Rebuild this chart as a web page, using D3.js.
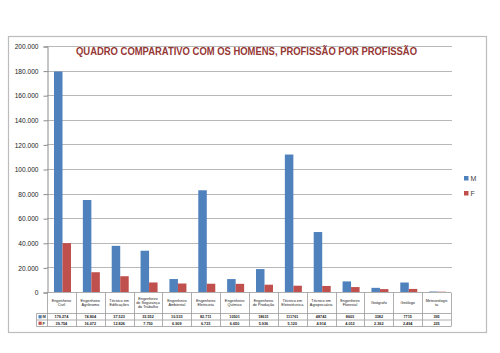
<!DOCTYPE html>
<html>
<head>
<meta charset="utf-8">
<script src="https://cdn.jsdelivr.net/npm/d3@7"></script>
<style>
  body { margin: 0; background: #fff; }
  svg { display: block; }
</style>
</head>
<body>
<div id="chart"></div>
<script>
// data
const categories = [
    ["Engenheiro", "Civil"],
    ["Engenheiro", "Agrônomo"],
    ["Técnico em", "Edificações"],
    ["Engenheiro", "de Segurança", "do Trabalho"],
    ["Engenheiro", "Ambiental"],
    ["Engenheiro", "Eletricista"],
    ["Engenheiro", "Químico"],
    ["Engenheiro", "de Produção"],
    ["Técnico em", "Eletrotécnica"],
    ["Técnico em", "Agropecuária"],
    ["Engenheiro", "Florestal"],
    ["Geógrafo"],
    ["Geólogo"],
    ["Meteorologis", "ta"]
];
const mValues = [179274, 74804, 37523, 33552, 10533, 82711, 10501, 18631, 111761, 48742, 8603, 3382, 7715, 395];
const fValues = [39754, 16072, 12826, 7750, 6909, 6723, 6650, 5936, 5120, 4914, 4012, 2362, 2494, 225];
const mLabels = ["179.274", "74.804", "37.523", "33.552", "10.533", "82.711", "10501", "18631", "111761", "48742", "8603", "3382", "7715", "395"];
const fLabels = ["39.754", "16.072", "12.826", "7.750", "6.909", "6.723", "6.650", "5.936", "5.120", "4.914", "4.012", "2.362", "2.494", "225"];
const yTicks = [0, 20000, 40000, 60000, 80000, 100000, 120000, 140000, 160000, 180000, 200000];
const series = ["M", "F"];
const title = "QUADRO COMPARATIVO COM OS HOMENS, PROFISSÃO POR PROFISSÃO";

const width = 500, height = 353;
const plot = { left: 47, right: 451, top: 46, bottom: 292 };
const colors = { M: "#4F81BD", F: "#C0504D" };
const font = "'Liberation Sans', Arial, sans-serif";

const svg = d3.select("#chart")
    .append("svg")
    .attr("width", width)
    .attr("height", height)
    .attr("viewBox", `0 0 ${width} ${height}`);

// chart area border
svg.append("rect")
    .attr("x", 8.5).attr("y", 36.5)
    .attr("width", 478).attr("height", 296)
    .attr("fill", "#fff")
    .attr("stroke", "#bcbcbc")
    .attr("stroke-width", 1.2);

// scales
const x0 = d3.scaleBand()
    .domain(d3.range(categories.length))
    .range([plot.left, plot.right])
    .padding(0);

const x1 = d3.scaleBand()
    .domain(series)
    .range([7, 24]);

const y = d3.scaleLinear()
    .domain([0, 200000])
    .range([plot.bottom, plot.top]);

// gridlines
svg.append("g")
    .selectAll("line")
    .data(yTicks.filter(d => d > 0))
    .enter()
    .append("line")
    .attr("x1", plot.left)
    .attr("x2", plot.right + 1)
    .attr("y1", d => Math.round(y(d)) + 0.5)
    .attr("y2", d => Math.round(y(d)) + 0.5)
    .attr("stroke", "#b8b8b8")
    .attr("stroke-width", 1);

// y axis
const yAxis = d3.axisLeft(y)
    .tickValues(yTicks)
    .tickSize(4)
    .tickFormat(d => d === 0 ? "0" : d3.format(",")(d).replace(/,/g, "."));

const gy = svg.append("g")
    .attr("transform", `translate(${plot.left + 0.5}, 0.5)`)
    .call(yAxis);
gy.select(".domain").attr("stroke", "#8c8c8c");
gy.selectAll(".tick line").attr("stroke", "#8c8c8c");
gy.selectAll(".tick text")
    .attr("x", -9)
    .style("font-family", font)
    .style("font-size", "6.6px")
    .attr("fill", "#222");

// bars
const groups = svg.append("g")
    .selectAll("g")
    .data(categories.map((c, i) => i))
    .enter()
    .append("g")
    .attr("transform", i => `translate(${x0(i)}, 0)`);

groups.selectAll("rect")
    .data(i => [{ s: "M", v: mValues[i] }, { s: "F", v: fValues[i] }])
    .enter()
    .append("rect")
    .attr("x", d => x1(d.s))
    .attr("width", x1.bandwidth())
    .attr("y", d => y(d.v))
    .attr("height", d => y(0) - y(d.v))
    .attr("fill", d => colors[d.s]);

// title
svg.append("text")
    .text(title)
    .attr("x", 76)
    .attr("y", 55)
    .attr("textLength", 341)
    .attr("lengthAdjust", "spacingAndGlyphs")
    .style("font-family", font)
    .style("font-size", "11px")
    .style("font-weight", 700)
    .attr("fill", "#953735");

// legend
const legend = svg.append("g")
    .attr("transform", "translate(464, 176)");

const legendRow = legend.selectAll("g")
    .data(series)
    .enter()
    .append("g")
    .attr("transform", (d, i) => `translate(0, ${i * 15})`);

legendRow.append("rect")
    .attr("width", 4.5)
    .attr("height", 4.5)
    .attr("fill", d => colors[d]);

legendRow.append("text")
    .attr("x", 6.5)
    .attr("y", 4.8)
    .style("font-family", font)
    .style("font-size", "7px")
    .attr("fill", "#404040")
    .text(d => d);

// data table
const rowY = { top: 292.5, head: 313.5, m: 320, f: 326.5 };
const tableLeft = 36.5;
const table = svg.append("g")
    .attr("stroke", "#9a9a9a")
    .attr("stroke-width", 0.8);

// horizontal lines
table.append("line").attr("x1", plot.left).attr("x2", plot.right).attr("y1", rowY.top).attr("y2", rowY.top);
[rowY.head, rowY.m, rowY.f].forEach(yy => {
    table.append("line")
        .attr("x1", tableLeft).attr("x2", plot.right)
        .attr("y1", yy).attr("y2", yy);
});
table.append("line").attr("x1", tableLeft).attr("x2", tableLeft).attr("y1", rowY.head).attr("y2", rowY.f);

// vertical lines
const bounds = d3.range(categories.length).map(i => x0(i)).concat([plot.right]);
table.selectAll(".vline")
    .data(bounds)
    .enter()
    .append("line")
    .attr("x1", d => Math.round(d) + 0.5)
    .attr("x2", d => Math.round(d) + 0.5)
    .attr("y1", rowY.top)
    .attr("y2", rowY.f);

// category labels
const lh = 4.3;
const cats = svg.append("g")
    .style("font-family", font)
    .style("font-size", "3.8px")
    .attr("fill", "#222")
    .attr("text-anchor", "middle");

categories.forEach((lines, i) => {
    const cx = x0(i) + x0.bandwidth() / 2;
    const mid = 302.5 - (lines.length - 1) * lh / 2;
    lines.forEach((t, k) => {
        cats.append("text")
            .attr("x", cx)
            .attr("y", mid + k * lh + 1.3)
            .text(t);
    });
});

// value rows
const vals = svg.append("g")
    .style("font-family", font)
    .style("font-size", "3.8px")
    .style("font-weight", 700)
    .attr("fill", "#222")
    .attr("text-anchor", "middle");

[[mLabels, (rowY.head + rowY.m) / 2], [fLabels, (rowY.m + rowY.f) / 2]].forEach(([labels, cy]) => {
    vals.selectAll(null)
        .data(labels)
        .enter()
        .append("text")
        .attr("x", (d, i) => x0(i) + x0.bandwidth() / 2)
        .attr("y", cy + 1.3)
        .text(d => d);
});

// series keys in table
series.forEach((s, i) => {
    const cy = i === 0 ? (rowY.head + rowY.m) / 2 : (rowY.m + rowY.f) / 2;
    svg.append("rect")
        .attr("x", 38.5).attr("y", cy - 1.6)
        .attr("width", 3.2).attr("height", 3.2)
        .attr("fill", colors[s]);
    svg.append("text")
        .attr("x", 42.5).attr("y", cy + 1.4)
        .style("font-family", font)
        .style("font-size", "4px")
        .style("font-weight", 700)
        .attr("fill", "#333")
        .text(s);
});
</script>
</body>
</html>
